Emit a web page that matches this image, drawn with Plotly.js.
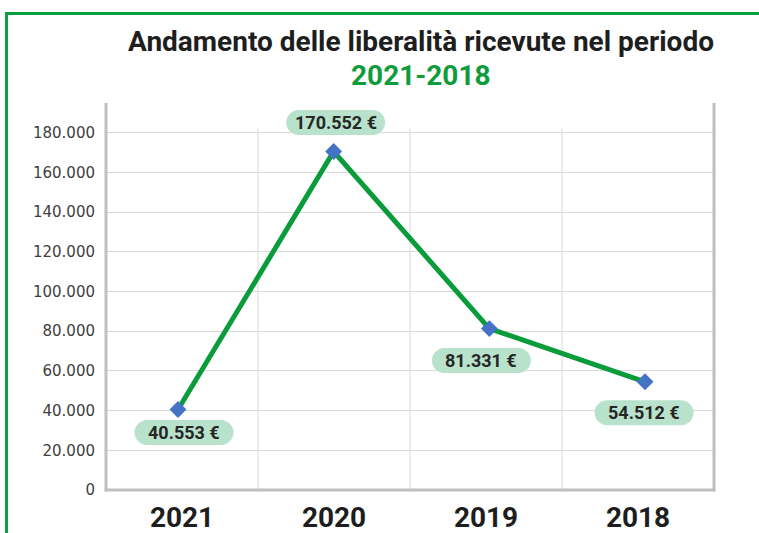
<!DOCTYPE html>
<html>
<head>
<meta charset="utf-8">
<script src="https://cdn.plot.ly/plotly-3.0.1.min.js"></script>
<style>
  html, body { margin: 0; padding: 0; background: #ffffff; }
  #wrap { position: relative; width: 759px; height: 533px; }
  #chart { width: 759px; height: 533px; }
  #frame { position: absolute; left: 5px; top: 12px; width: 760px; height: 530px;
           border-top: 3px solid #0ba03f; border-left: 3px solid #0ba03f; pointer-events: none; }
</style>
</head>
<body>
<div id="wrap">
  <div id="chart"></div>
  <div id="frame"></div>
</div>
<script>
// ---- data ----
const years = ["2021", "2020", "2019", "2018"];
const amounts = [40553, 170552, 81331, 54512];
const labels = ["40.553 €", "170.552 €", "81.331 €", "54.512 €"];
const yTicks = [0, 20000, 40000, 60000, 80000, 100000, 120000, 140000, 160000, 180000];

// ---- label placement (pixels, relative to point; +y up) ----
const labelOffsets = [[6, -23], [2, 29], [-8, -32], [-1, -31]];

const font = "Roboto, DejaVu Sans, sans-serif";
const yTop = 195000;    // axis top (gray side lines reach here)
const gridTop = 182000; // vertical gridlines stop here
const idx = years.map((_, i) => i);

function pillPath(cx, cy, w, h) {
  const r = h / 2, k = 0.5523 * r;
  const a = cx + w / 2 - r, b = cx - w / 2 + r;
  return `M${b},${cy + r} L${a},${cy + r} ` +
         `C${a + k},${cy + r} ${a + r},${cy + k} ${a + r},${cy} ` +
         `C${a + r},${cy - k} ${a + k},${cy - r} ${a},${cy - r} ` +
         `L${b},${cy - r} ` +
         `C${b - k},${cy - r} ${b - r},${cy - k} ${b - r},${cy} ` +
         `C${b - r},${cy + k} ${b - k},${cy + r} ${b},${cy + r} Z`;
}

const shapes = [];
const annotations = [];

// vertical gridlines between categories
for (let i = 0; i < years.length - 1; i++) {
  shapes.push({ type: "line", xref: "x", yref: "y", x0: i + 0.5, x1: i + 0.5, y0: 0, y1: gridTop,
    line: { color: "#d9d9d9", width: 1 }, layer: "below" });
}

idx.forEach(i => {
  const [dx, dy] = labelOffsets[i];
  shapes.push({
    type: "path", layer: "above",
    xref: "x2", yref: "y",
    xsizemode: "pixel", ysizemode: "pixel",
    xanchor: i, yanchor: amounts[i],
    path: pillPath(dx, dy, 99, 25),
    fillcolor: "#b8e2cb", line: { width: 0 }
  });
  annotations.push({
    x: i, y: amounts[i], xref: "x2", yref: "y",
    text: labels[i], showarrow: false,
    xshift: dx, yshift: dy,
    font: { family: font, size: 18, color: "#262626", weight: "bold" }
  });
});

// gray axis frame lines
shapes.push({ type: "line", xref: "paper", yref: "paper", x0: 0, x1: 0, y0: -0.004, y1: 1,
  line: { color: "#bfbfbf", width: 3 }, layer: "above" });
shapes.push({ type: "line", xref: "paper", yref: "paper", x0: 1, x1: 1, y0: -0.004, y1: 1,
  line: { color: "#bfbfbf", width: 3 }, layer: "above" });
shapes.push({ type: "line", xref: "paper", yref: "paper", x0: -0.002, x1: 1.002, y0: 0, y1: 0,
  line: { color: "#bfbfbf", width: 3 }, layer: "above" });

// second title line
annotations.push({
  xref: "paper", yref: "paper", x: 0.518, y: 1 + (103 - 75) / 387,
  xanchor: "center", yanchor: "middle", showarrow: false,
  text: "2021-2018",
  font: { family: font, size: 28, color: "#0f9c3d", weight: "bold" }
});

// invisible trace to hold the category axis
const axisTrace = {
  type: "scatter", mode: "none", x: years, y: amounts,
  xaxis: "x", yaxis: "y", hoverinfo: "skip", showlegend: false
};

const trace = {
  type: "scatter", mode: "lines+markers",
  x: idx, y: amounts,
  xaxis: "x2", yaxis: "y",
  line: { color: "#0a9b3a", width: 5 },
  marker: { symbol: "diamond", size: 13, color: "#4472c4" },
  cliponaxis: false, hoverinfo: "skip"
};

const layout = {
  width: 759, height: 533,
  margin: { l: 106, r: 45, t: 103, b: 43 },
  paper_bgcolor: "#ffffff", plot_bgcolor: "#ffffff",
  separators: ",.",
  showlegend: false,
  title: {
    text: "Andamento delle liberalità ricevute nel periodo",
    xref: "container", yref: "container",
    x: 421 / 759, xanchor: "center",
    y: 1 - 41 / 533, yanchor: "middle",
    font: { family: font, size: 28, color: "#1e1e1e", weight: "bold" }
  },
  xaxis: {
    type: "category",
    showgrid: false,
    showline: false, zeroline: false,
    ticks: "", ticklabelstandoff: 8,
    tickfont: { family: font, size: 28, color: "#1e1e1e", weight: "bold" },
    range: [-0.5, 3.5]
  },
  xaxis2: {
    overlaying: "x", visible: false,
    range: [-0.4625, 3.443]
  },
  yaxis: {
    range: [0, yTop],
    tickvals: yTicks,
    tickformat: ",d",
    showgrid: true, gridcolor: "#d9d9d9", gridwidth: 1,
    showline: false, zeroline: false,
    ticks: "", ticklabelstandoff: 10,
    tickfont: { family: "DejaVu Sans", size: 15, color: "#404040" }
  },
  shapes: shapes,
  annotations: annotations
};

Plotly.newPlot("chart", [axisTrace, trace], layout, { displayModeBar: false, staticPlot: true });
</script>
</body>
</html>
